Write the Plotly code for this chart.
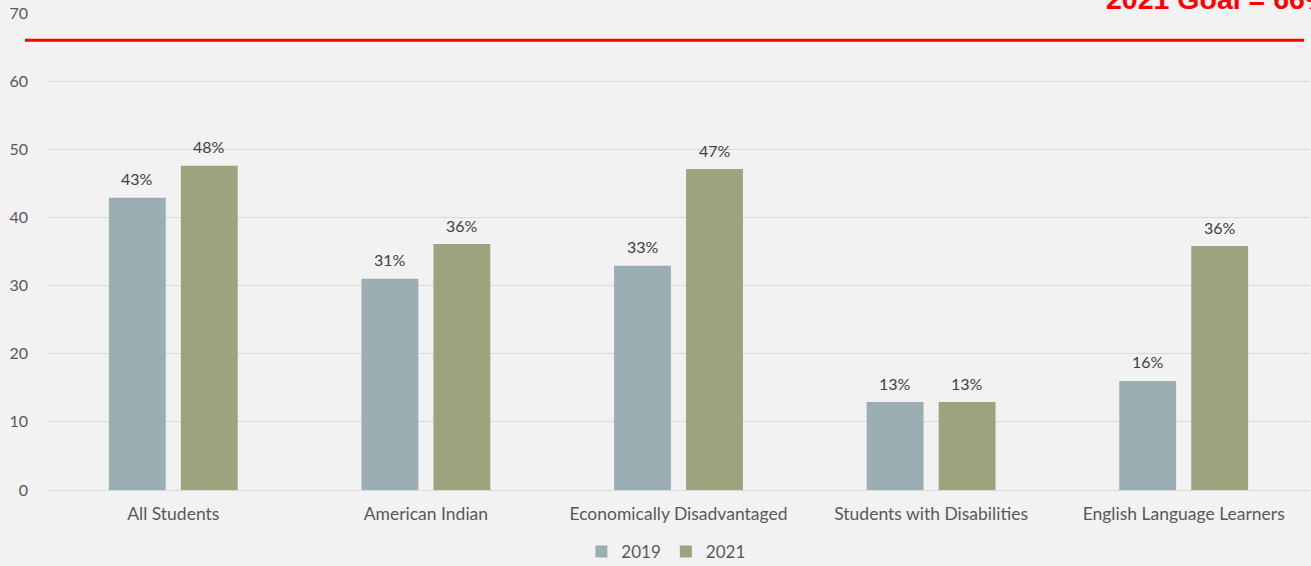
import plotly.graph_objects as go

# Percent of students meeting the benchmark, by group and year
categories = [
    "All Students",
    "American Indian",
    "Economically Disadvantaged",
    "Students with Disabilities",
    "English Language Learners",
]
values_2019 = [42.9, 31.0, 32.9, 12.9, 16.0]
values_2021 = [47.6, 36.1, 47.1, 12.9, 35.8]
goal_value = 66
goal_label = "2021 Goal = 66%"

y_ticks = [0, 10, 20, 30, 40, 50, 60, 70]

color_2019 = "#9BAEB3"
color_2021 = "#9BA37F"
text_color = "#595959"
bg = "#F2F2F2"
font_family = "Lato, 'Open Sans', sans-serif"

fig = go.Figure()
fig.add_trace(go.Bar(name="2019", x=categories, y=values_2019,
                     marker=dict(color=color_2019, line=dict(width=0))))
fig.add_trace(go.Bar(name="2021", x=categories, y=values_2021,
                     marker=dict(color=color_2021, line=dict(width=0))))

# Value labels above each bar (rounded from the bar value)
annotations = []
for series, shift in ((values_2019, -36), (values_2021, 36)):
    for cat, v in zip(categories, series):
        annotations.append(dict(
            x=cat, y=v, xref="x", yref="y", text=f"{round(v)}%",
            showarrow=False, xshift=shift, yshift=19,
            font=dict(family=font_family, size=16, color="#404040"),
        ))

# Goal caption in the top-right corner
annotations.append(dict(
    x=0.837, y=1.030, xref="paper", yref="paper", text=f"<b>{goal_label}</b>",
    showarrow=False, xanchor="left", yanchor="middle",
    font=dict(family="Liberation Sans, Arial, sans-serif", size=28.5, color="#FF0000"),
))

fig.update_layout(
    width=1311, height=566,
    margin=dict(l=47, r=1, t=13, b=76, autoexpand=False),
    paper_bgcolor=bg, plot_bgcolor=bg,
    barmode="group", bargap=0.43, bargroupgap=0.21,
    font=dict(family=font_family, size=15, color=text_color),
    showlegend=True,
    legend=dict(orientation="h", x=0.49, xanchor="center", y=-0.13, yanchor="middle",
                font=dict(size=17, color=text_color), itemwidth=30,
                traceorder="normal", bgcolor="rgba(0,0,0,0)"),
    annotations=annotations,
    shapes=[dict(type="line", xref="paper", yref="y",
                 x0=-0.0174, x1=0.9953, y0=goal_value, y1=goal_value,
                 line=dict(color="#FF0000", width=3), layer="above")],
)
fig.update_xaxes(showgrid=False, showline=False, ticks="", ticklabelstandoff=11,
                 automargin=False, tickfont=dict(size=17.5, color=text_color))
fig.update_yaxes(range=[0, 70], tickvals=y_ticks, showgrid=True, gridcolor="#D9D9D9",
                 gridwidth=1, zeroline=True, zerolinecolor="#D9D9D9", zerolinewidth=1,
                 showline=False, ticks="", ticklabelstandoff=18, automargin=False,
                 tickfont=dict(size=16, color=text_color))

fig.write_html("out.html")
